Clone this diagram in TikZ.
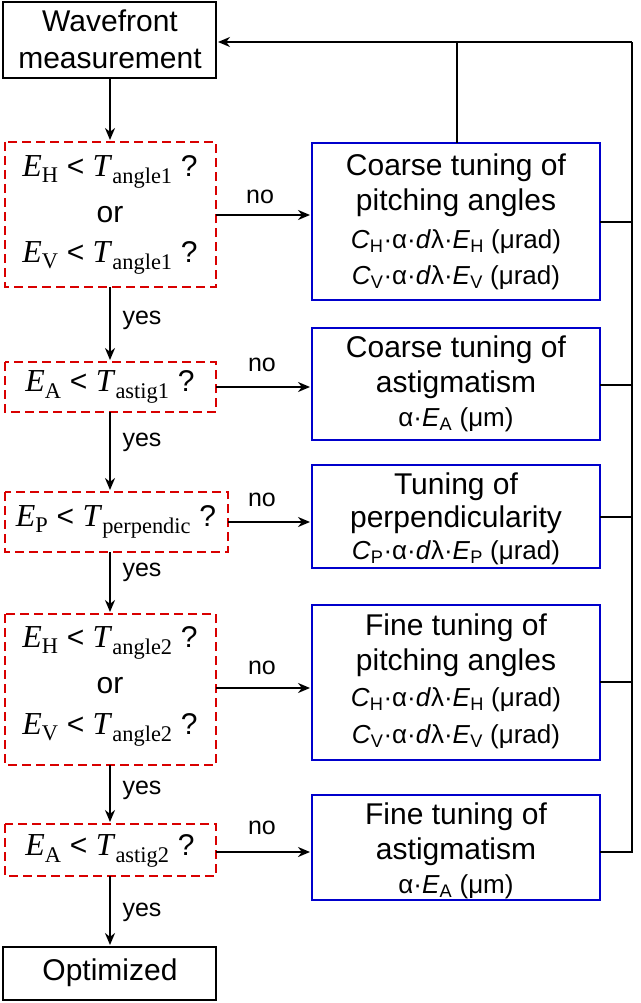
\documentclass[tikz,border=0pt]{standalone}
\usepackage{fontspec}
\setmainfont{Liberation Sans}
\newfontfamily\tnr{Liberation Serif}
\newcommand{\sv}[2]{{\tnr\fontsize{32}{34}\selectfont\textit{#1}\textsubscript{#2}}}
\newcommand{\si}[2]{\textit{#1}\textsubscript{#2}}
\tikzset{
 blk/.style={draw=black,line width=2.2pt,inner sep=0pt},
 red/.style={draw=red!85!black,dashed,dash pattern=on 9pt off 5pt,line width=2.2pt},
 blu/.style={draw=blue!80!black,line width=2.2pt},
 arr/.style={-{Stealth[length=12pt,width=10pt]},line width=2.2pt},
 ln/.style={line width=2.2pt},
 tx/.style={font=\fontsize{30}{32}\selectfont},
 sx/.style={font=\fontsize{26}{28}\selectfont},
 lb/.style={font=\fontsize{25}{26}\selectfont}
}
\usetikzlibrary{arrows.meta}
\begin{document}
\begin{tikzpicture}[x=1pt,y=-1pt]
\useasboundingbox (0,0) rectangle (640,1003);
\draw[blk] (3,2) rectangle (216,78);
\node[tx] (wf1) at (110,21) {Wavefront};
\node[tx] (wf2) at (110,59) {measurement};
\draw[blk] (3,947) rectangle (216,1000);
\node[tx] (opt) at (110,973) {Optimized};
\draw[red] (5,142) rectangle (216,287);
\node[tx] (r1a) at (110,172) {\sv{E}{H} < \sv{T}{angle1} ?};
\node[tx] (r1b) at (110,215) {or};
\node[tx] (r1c) at (110,258) {\sv{E}{V} < \sv{T}{angle1} ?};
\draw[red] (5,362) rectangle (216,412);
\node[tx] (r2) at (110,387) {\sv{E}{A} < \sv{T}{astig1} ?};
\draw[red] (5,492) rectangle (228,552);
\node[tx] (r3) at (116,522) {\sv{E}{P} < \sv{T}{perpendic} ?};
\draw[red] (5,614) rectangle (216,765);
\node[tx] (r4a) at (110,643) {\sv{E}{H} < \sv{T}{angle2} ?};
\node[tx] (r4b) at (110,686) {or};
\node[tx] (r4c) at (110,730) {\sv{E}{V} < \sv{T}{angle2} ?};
\draw[red] (5,824) rectangle (216,876);
\node[tx] (r5) at (110,851) {\sv{E}{A} < \sv{T}{astig2} ?};
\draw[blu] (312,143) rectangle (600,300);
\node[tx] at (456,168) {Coarse tuning of};
\node[tx] at (456,203) {pitching angles};
\node[sx] at (456,242) {\si{C}{H}·α·\textit{d}λ·\si{E}{H} (μrad)};
\node[sx] at (456,278) {\si{C}{V}·α·\textit{d}λ·\si{E}{V} (μrad)};
\draw[blu] (312,328) rectangle (600,440);
\node[tx] at (456,350) {Coarse tuning of};
\node[tx] at (456,385) {astigmatism};
\node[sx] at (456,420) {α·\si{E}{A} (μm)};
\draw[blu] (312,465) rectangle (600,568);
\node[tx] at (456,487) {Tuning of};
\node[tx] at (456,520) {perpendicularity};
\node[sx] at (456,553) {\si{C}{P}·α·\textit{d}λ·\si{E}{P} (μrad)};
\draw[blu] (312,605) rectangle (600,760);
\node[tx] at (456,628) {Fine tuning of};
\node[tx] at (456,663) {pitching angles};
\node[sx] at (456,700) {\si{C}{H}·α·\textit{d}λ·\si{E}{H} (μrad)};
\node[sx] at (456,737) {\si{C}{V}·α·\textit{d}λ·\si{E}{V} (μrad)};
\draw[blu] (312,795) rectangle (600,900);
\node[tx] at (456,817) {Fine tuning of};
\node[tx] at (456,852) {astigmatism};
\node[sx] at (456,887) {α·\si{E}{A} (μm)};
\draw[arr] (110,78) -- (110,140);
\draw[arr] (110,287) -- (110,360); \node[lb] at (142,320) {yes};
\draw[arr] (110,412) -- (110,490); \node[lb] at (142,442) {yes};
\draw[arr] (110,552) -- (110,612); \node[lb] at (142,572) {yes};
\draw[arr] (110,765) -- (110,822); \node[lb] at (142,790) {yes};
\draw[arr] (110,876) -- (110,945); \node[lb] at (142,912) {yes};
\draw[arr] (216,215) -- (310,215); \node[lb] at (260,197) {no};
\draw[arr] (216,387) -- (310,387); \node[lb] at (262,365) {no};
\draw[arr] (228,522) -- (310,522); \node[lb] at (262,500) {no};
\draw[arr] (216,688) -- (310,688); \node[lb] at (262,668) {no};
\draw[arr] (216,852) -- (310,852); \node[lb] at (262,828) {no};
\draw[ln] (600,852) -- (632,852) -- (632,42);
\draw[arr] (632,42) -- (218,42);
\draw[ln] (457,143) -- (457,42);
\draw[ln] (600,222) -- (632,222);
\draw[ln] (600,385) -- (632,385);
\draw[ln] (600,517) -- (632,517);
\draw[ln] (600,682) -- (632,682);
\end{tikzpicture}
\end{document}
